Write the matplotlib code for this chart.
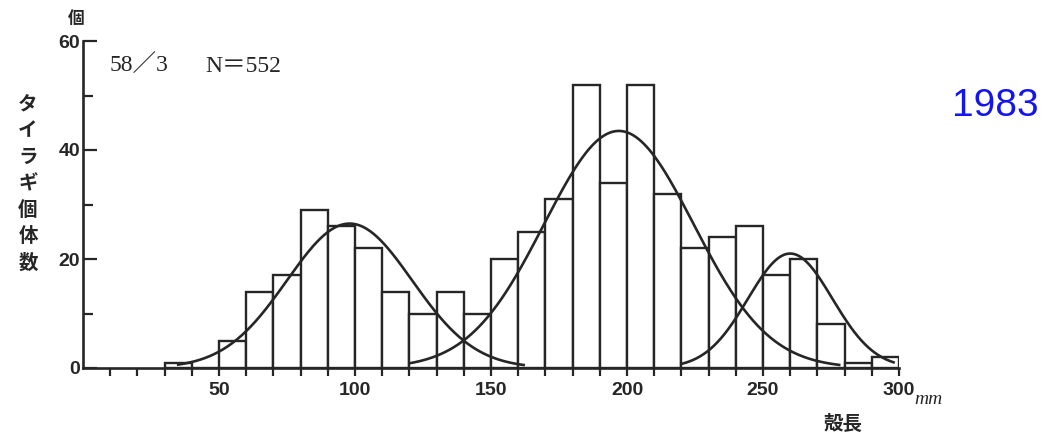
import numpy as np
import matplotlib
matplotlib.use("Agg")
import matplotlib.pyplot as plt

# Datos del histograma (clases de 10 mm, borde izquierdo de cada clase)
bordes = [30, 40, 50, 60, 70, 80, 90, 100, 110, 120, 130, 140, 150, 160,
          170, 180, 190, 200, 210, 220, 230, 240, 250, 260, 270, 280, 290]
conteos = [1, 0, 5, 14, 17, 29, 26, 22, 14, 10, 14, 10, 20, 25,
           31, 52, 34, 52, 32, 22, 24, 26, 17, 20, 8, 1, 2]
ancho = 10

# Curvas normales ajustadas: (media, sigma, altura, inicio, fin)
curvas = [
    (98, 23.0, 26.5, 35, 162),
    (197, 27.5, 43.5, 120, 278),
    (260, 15.5, 21.0, 220, 298),
]

x_ticks = list(range(10, 301, 10))
x_labels = {50: "50", 100: "100", 150: "150", 200: "200", 250: "250", 300: "300"}
y_ticks = [0, 10, 20, 30, 40, 50, 60]
y_labels = {0: "0", 20: "20", 40: "40", 60: "60"}

color_linea = "#262626"
W, H = 1047, 438

fig = plt.figure(figsize=(W / 100, H / 100), dpi=100)
fig.patch.set_facecolor("white")
ax = fig.add_axes([83 / W, 70 / H, 816 / W, 327 / H])

# Barras sin relleno
ax.bar(bordes, conteos, width=ancho, align="edge", facecolor="white",
       edgecolor=color_linea, linewidth=1.7, zorder=2)

# Curvas
for media, sigma, altura, x0, x1 in curvas:
    xs = np.linspace(x0, x1, 300)
    ys = altura * np.exp(-(xs - media) ** 2 / (2 * sigma ** 2))
    ax.plot(xs, ys, color=color_linea, linewidth=1.9, zorder=3)

ax.set_xlim(0, 300)
ax.set_ylim(0, 60)

for lado in ["top", "right"]:
    ax.spines[lado].set_visible(False)
for lado in ["left", "bottom"]:
    ax.spines[lado].set_color(color_linea)
    ax.spines[lado].set_linewidth(1.9)

fuente_num = {"family": "Liberation Sans", "weight": "bold", "size": 14}

ax.set_xticks(x_ticks)
ax.set_xticklabels([x_labels.get(v, "") for v in x_ticks], fontdict=fuente_num,
                   color=color_linea)
ax.tick_params(axis="x", direction="out", length=6, width=1.6, pad=4,
               color=color_linea)

ax.set_yticks(y_ticks)
ax.set_yticklabels([y_labels.get(v, "") for v in y_ticks], fontdict=fuente_num,
                   color=color_linea)
ax.tick_params(axis="y", direction="in", length=10, width=1.6, pad=2,
               color=color_linea)
for tick, v in zip(ax.yaxis.get_major_ticks(), y_ticks):
    if v in (10, 30, 50):
        tick.tick1line.set_markersize(7)

# Textos (posiciones en píxeles de la figura)
def texto(x, y, s, **kw):
    fig.text(x / W, 1 - y / H, s, **kw)

jp = ["Noto Sans CJK JP", "DejaVu Sans"]
serif = ["Liberation Serif", "Noto Sans CJK JP"]

texto(76, 19, "個", family=jp, weight="bold", size=12, color=color_linea,
      ha="center", va="center")
texto(110, 66, "58／3", family=serif, size=17, color=color_linea,
      ha="left", va="center")
texto(205, 66, "N＝552", family=serif, size=17, color=color_linea,
      ha="left", va="center")

etiqueta_y = "タイラギ個体数"
for i, c in enumerate(etiqueta_y):
    texto(28, 104 + i * 26.5, c, family=jp, weight="bold", size=14,
          color=color_linea, ha="center", va="center")

texto(914, 399, "mm", family="Liberation Serif", style="italic", size=14,
      color=color_linea, ha="left", va="center")
texto(843, 424, "殻長", family=jp, weight="bold", size=14, color=color_linea,
      ha="center", va="center")

texto(995, 106, "1983", family="Liberation Sans", size=28, color="#1414f0",
      ha="center", va="center")

fig.savefig("out.png", dpi=100, facecolor="white")
